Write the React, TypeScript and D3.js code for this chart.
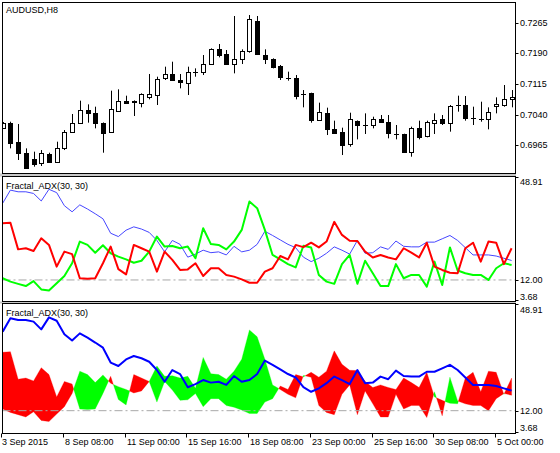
import React from "react";
import * as d3 from "d3";

const OPEN = [0.70066,0.70188,0.6974,0.69471,0.69308,0.6921,0.69431,0.69251,0.69594,0.69985,0.70205,0.70514,0.70433,0.70205,0.69985,0.70498,0.70735,0.70743,0.70694,0.7084,0.70881,0.71289,0.71387,0.71248,0.71166,0.71452,0.71435,0.71639,0.71998,0.71884,0.71639,0.71753,0.71965,0.72699,0.71859,0.71753,0.71598,0.71289,0.71289,0.70898,0.70922,0.7027,0.70449,0.70042,0.69977,0.69683,0.70254,0.7014,0.70148,0.70303,0.70229,0.6992,0.69928,0.69496,0.70083,0.69879,0.70205,0.70286,0.70205,0.70629,0.70629,0.70311,0.70303,0.70294,0.70612,0.70637,0.70775];
const HIGH = [0.7022,0.70229,0.70172,0.69577,0.69496,0.69536,0.69471,0.6974,0.70025,0.70417,0.70743,0.70653,0.70596,0.7021,0.70987,0.7102,0.70865,0.7075,0.70922,0.71395,0.71329,0.71574,0.71696,0.71395,0.71574,0.71533,0.71859,0.72022,0.72128,0.71981,0.72813,0.71998,0.72837,0.72813,0.71998,0.71778,0.71615,0.71452,0.7137,0.71003,0.70938,0.70694,0.70572,0.70254,0.70083,0.70449,0.7026,0.70433,0.70351,0.70392,0.70392,0.70148,0.69935,0.70107,0.70254,0.70254,0.70433,0.70392,0.70637,0.70865,0.70857,0.70596,0.70718,0.7058,0.70824,0.71126,0.71003];
const LOW = [0.7005,0.69577,0.69292,0.6908,0.69129,0.69145,0.69227,0.6924,0.69536,0.6998,0.70172,0.70205,0.70066,0.69471,0.6996,0.70474,0.70661,0.70368,0.7058,0.70775,0.70637,0.71248,0.7124,0.71044,0.70881,0.71329,0.7137,0.71615,0.71802,0.71615,0.71411,0.71639,0.71916,0.71859,0.71639,0.71533,0.71248,0.71232,0.70775,0.7058,0.70205,0.70254,0.69903,0.69928,0.69414,0.69618,0.69797,0.69928,0.70066,0.70205,0.69822,0.69797,0.69471,0.69373,0.69797,0.69846,0.69928,0.70148,0.69985,0.70474,0.70254,0.70148,0.70229,0.70042,0.70433,0.70596,0.7058];
const CLOSE = [0.70205,0.69699,0.69471,0.69088,0.69194,0.69455,0.69251,0.69594,0.69985,0.70188,0.70514,0.70433,0.70205,0.6996,0.70531,0.70735,0.70694,0.70726,0.70898,0.70898,0.71264,0.71387,0.71248,0.71199,0.71435,0.71452,0.71639,0.71998,0.71859,0.71639,0.71753,0.71957,0.72731,0.71884,0.71753,0.71574,0.71313,0.71289,0.70857,0.70898,0.7027,0.70474,0.70042,0.69944,0.69659,0.70286,0.7014,0.7014,0.70286,0.70221,0.69944,0.6992,0.69496,0.70083,0.69862,0.70213,0.7027,0.70205,0.70612,0.70629,0.70311,0.70311,0.70303,0.70457,0.70653,0.70783,0.7084];

const ADX = [39.6,44.3,43.7,43.7,43.1,40.4,44.6,43.4,38.7,36.5,39.0,37.5,35.8,34.0,28.8,27.6,29.9,31.1,30.3,29.1,26.2,22.1,26.2,24.8,20.2,21.3,22.7,21.8,22.1,21.0,24.1,22.1,22.7,24.8,29.5,28.0,26.4,24.8,23.6,20.2,18.6,19.8,21.6,23.9,22.7,21.3,26.2,21.6,21.8,23.9,23.0,26.0,24.1,23.9,23.9,25.6,25.6,26.8,28.0,26.2,23.6,21.0,21.0,21.0,20.6,19.8,19.0];
const PLUS_DI = [12.6,11.4,10.6,9.8,11.6,8.6,8.2,10.8,13.4,18.0,25.8,24.6,21.8,24.5,21.6,20.4,19.4,18.2,18.9,22.2,27.6,24.0,24.2,23.4,24.0,19.8,30.6,24.9,24.6,23.0,25.8,30.0,40.2,37.8,30.0,21.0,19.4,17.7,16.5,24.3,23.7,13.8,11.4,10.6,17.7,21.0,10.6,18.9,14.4,9.8,9.8,17.7,12.6,13.8,13.8,9.6,18.6,10.2,23.7,15.4,14.4,13.8,13.8,12.0,16.2,18.0,17.4];
const MINUS_DI = [32.4,32.6,23.0,23.4,22.4,27.0,24.6,16.8,22.2,21.3,12.6,12.4,12.6,18.0,24.0,15.9,14.0,24.6,23.4,22.2,15.0,22.2,19.2,15.6,15.8,18.0,13.4,16.2,16.2,13.8,13.2,12.2,11.0,11.0,15.0,16.2,20.6,19.4,24.6,23.8,25.4,23.7,25.8,32.9,28.2,26.1,26.0,22.2,20.1,21.0,20.1,19.4,23.4,21.8,20.1,25.4,16.8,15.6,14.6,14.4,23.4,25.4,18.6,25.8,25.4,17.7,23.4];

const PRICE_TICKS = [0.7265, 0.719, 0.7115, 0.704, 0.6965];
const TIME_TICK_BARS = [0, 8, 16, 24, 32, 40, 48, 56, 64];
const TIME_TICK_LABELS = ["3 Sep 2015", "8 Sep 08:00", "11 Sep 00:00", "15 Sep 16:00", "18 Sep 08:00", "23 Sep 00:00", "25 Sep 16:00", "30 Sep 08:00", "5 Oct 00:00"];
const IND_MAX = 48.91;
const IND_MIN = 3.68;
const IND_LEVEL = 12.0;
const SYMBOL_TITLE = "AUDUSD,H8";
const IND_TITLE = "Fractal_ADX(30, 30)";

const W = 560;
const H = 453;
const LEFT = 2.5;
const RIGHT = 515.5;
const P1 = { top: 2.5, bottom: 173.5 };
const P2 = { top: 176.5, bottom: 301.5 };
const P3 = { top: 303.5, bottom: 433.5 };
const FONT = "'Liberation Sans', Arial, sans-serif";

type Pt = { i: number; g: number; r: number };

export default function App() {
  const n = OPEN.length;
  const x = d3.scaleLinear().domain([0, n - 1]).range([2.7, 511.6]);
  const yP = d3.scaleLinear().domain([0.6965, 0.7265]).range([145.37, 22.67]);
  const y2 = d3.scaleLinear().domain([IND_MIN, IND_MAX]).range([303.1, 177.3]);
  const y3 = d3.scaleLinear().domain([IND_MIN, IND_MAX]).range([434.5, 305]);

  const idx = d3.range(n);
  const line2 = (arr: number[]) =>
    d3.line<number>().x((i) => x(i)).y((i) => y2(arr[i]))(idx) || "";
  const adx3 = d3.line<number>().x((i) => x(i)).y((i) => y3(ADX[i]))(idx) || "";

  // fill runs between +DI and -DI
  const pts: Pt[] = [];
  for (let i = 0; i < n; i++) {
    pts.push({ i, g: PLUS_DI[i], r: MINUS_DI[i] });
    if (i < n - 1) {
      const d0 = PLUS_DI[i] - MINUS_DI[i];
      const d1 = PLUS_DI[i + 1] - MINUS_DI[i + 1];
      if (d0 * d1 < 0) {
        const t = d0 / (d0 - d1);
        pts.push({
          i: i + t,
          g: PLUS_DI[i] + t * (PLUS_DI[i + 1] - PLUS_DI[i]),
          r: MINUS_DI[i] + t * (MINUS_DI[i + 1] - MINUS_DI[i]),
        });
      }
    }
  }
  const runs: { s: string; pts: Pt[] }[] = [];
  let cur: { s: string; pts: Pt[] } | null = null;
  for (let k = 0; k < pts.length - 1; k++) {
    const a = pts[k], b = pts[k + 1];
    const s = a.g - a.r + (b.g - b.r) >= 0 ? "g" : "r";
    if (cur && cur.s === s) cur.pts.push(b);
    else {
      cur = { s, pts: [a, b] };
      runs.push(cur);
    }
  }
  const area = d3
    .area<Pt>()
    .x((p) => x(p.i))
    .y0((p) => y3(p.r))
    .y1((p) => y3(p.g));

  const crisp = (v: number) => Math.round(v) + 0.5;

  return (
    <svg
      width={W}
      height={H}
      style={{ position: "absolute", left: 0, top: 0, background: "#fff" }}
      fontFamily={FONT}
      fontSize={9}
    >
      <defs>
        <clipPath id="c1"><rect x={LEFT} y={P1.top} width={RIGHT - LEFT} height={P1.bottom - P1.top} /></clipPath>
        <clipPath id="c2"><rect x={LEFT} y={P2.top} width={RIGHT - LEFT} height={P2.bottom - P2.top} /></clipPath>
        <clipPath id="c3"><rect x={LEFT} y={P3.top} width={RIGHT - LEFT} height={P3.bottom - P3.top} /></clipPath>
      </defs>
      <rect x={0} y={0} width={W} height={H} fill="#fff" />

      {/* separators */}
      <rect x={0} y={P1.bottom} width={RIGHT + 0.5} height={P2.top - P1.bottom} fill="#c8c8c8" />
      <rect x={0} y={P2.bottom} width={RIGHT + 0.5} height={P3.top - P2.bottom} fill="#c8c8c8" />

      {/* Panel 1 candles */}
      <g clipPath="url(#c1)">
        {idx.map((i) => {
          const cx = crisp(x(i));
          const o = OPEN[i], c = CLOSE[i];
          const top = crisp(yP(Math.max(o, c)));
          const bot = crisp(yP(Math.min(o, c)));
          const bull = c > o;
          const doji = Math.abs(o - c) < 0.00003;
          return (
            <g key={i}>
              <line x1={cx} x2={cx} y1={yP(HIGH[i])} y2={yP(LOW[i])} stroke="#000" strokeWidth={1} />
              {doji ? (
                <line x1={cx - 2.5} x2={cx + 2.5} y1={top} y2={top} stroke="#000" strokeWidth={1} />
              ) : (
                <rect
                  x={cx - 2}
                  y={top}
                  width={4}
                  height={Math.max(bot - top, 1)}
                  fill={bull ? "#fff" : "#000"}
                  stroke="#000"
                  strokeWidth={1}
                />
              )}
            </g>
          );
        })}
      </g>

      {/* Panel 2 lines */}
      <g clipPath="url(#c2)">
        <line x1={LEFT} x2={RIGHT} y1={y2(IND_LEVEL)} y2={y2(IND_LEVEL)} stroke="#a8a8a8" strokeWidth={1} strokeDasharray="8,3,2,3" />
        <path d={line2(ADX)} fill="none" stroke="#4646ff" strokeWidth={1} />
        <path d={line2(PLUS_DI)} fill="none" stroke="#00ff00" strokeWidth={2} strokeLinejoin="round" />
        <path d={line2(MINUS_DI)} fill="none" stroke="#ff0000" strokeWidth={2} strokeLinejoin="round" />
      </g>

      {/* Panel 3 fills */}
      <g clipPath="url(#c3)">
        {runs.map((run, k) => (
          <path key={k} d={area(run.pts) || ""} fill={run.s === "g" ? "#00ff00" : "#ff0000"} stroke={run.s === "g" ? "#00ff00" : "#ff0000"} strokeWidth={0.3} />
        ))}
        <line x1={LEFT} x2={RIGHT} y1={y3(IND_LEVEL)} y2={y3(IND_LEVEL)} stroke="#a8a8a8" strokeWidth={1} strokeDasharray="8,3,2,3" />
        <path d={adx3} fill="none" stroke="#0000ff" strokeWidth={2} strokeLinejoin="round" />
      </g>

      {/* frames */}
      <rect x={LEFT} y={P1.top} width={RIGHT - LEFT} height={P1.bottom - P1.top} fill="none" stroke="#000" />
      <rect x={LEFT} y={P2.top} width={RIGHT - LEFT} height={P2.bottom - P2.top} fill="none" stroke="#000" />
      <rect x={LEFT} y={P3.top} width={RIGHT - LEFT} height={P3.bottom - P3.top} fill="none" stroke="#000" />

      {/* titles */}
      <text x={6} y={10} dominantBaseline="central">{SYMBOL_TITLE}</text>
      <text x={6} y={185.7} dominantBaseline="central">{IND_TITLE}</text>
      <text x={6} y={312.7} dominantBaseline="central">{IND_TITLE}</text>

      {/* price axis */}
      {PRICE_TICKS.map((p) => (
        <g key={p}>
          <line x1={RIGHT} x2={RIGHT + 3} y1={crisp(yP(p))} y2={crisp(yP(p))} stroke="#000" />
          <text x={RIGHT + 4.5} y={yP(p)} dominantBaseline="central">{p.toFixed(4)}</text>
        </g>
      ))}

      {/* indicator axes */}
      {[
        { sc: y2, top: IND_MAX, topText: 181.7, lvlText: y2(IND_LEVEL), botTick: 300.5, botText: 296.7, topTick: 177.5 },
        { sc: y3, top: IND_MAX, topText: 310, lvlText: y3(IND_LEVEL), botTick: 432.5, botText: 428.3, topTick: 304.5 },
      ].map((a, k) => (
        <g key={k}>
          <line x1={RIGHT} x2={RIGHT + 3} y1={a.topTick} y2={a.topTick} stroke="#000" />
          <text x={RIGHT + 4.5} y={a.topText} dominantBaseline="central">{IND_MAX.toFixed(2)}</text>
          <line x1={RIGHT} x2={RIGHT + 3} y1={crisp(a.sc(IND_LEVEL))} y2={crisp(a.sc(IND_LEVEL))} stroke="#000" />
          <text x={RIGHT + 4.5} y={a.lvlText} dominantBaseline="central">{IND_LEVEL.toFixed(2)}</text>
          <line x1={RIGHT} x2={RIGHT + 3} y1={a.botTick} y2={a.botTick} stroke="#000" />
          <text x={RIGHT + 4.5} y={a.botText} dominantBaseline="central">{IND_MIN.toFixed(2)}</text>
        </g>
      ))}

      {/* time axis */}
      {TIME_TICK_BARS.map((b, k) => {
        const tx = crisp(x(b) - 1.3);
        return (
          <g key={b}>
            <line x1={tx} x2={tx} y1={P3.bottom} y2={P3.bottom + 4} stroke="#000" />
            <text x={k === 0 ? 2 : tx + 1.5} y={442} dominantBaseline="central">{TIME_TICK_LABELS[k]}</text>
          </g>
        );
      })}
    </svg>
  );
}
